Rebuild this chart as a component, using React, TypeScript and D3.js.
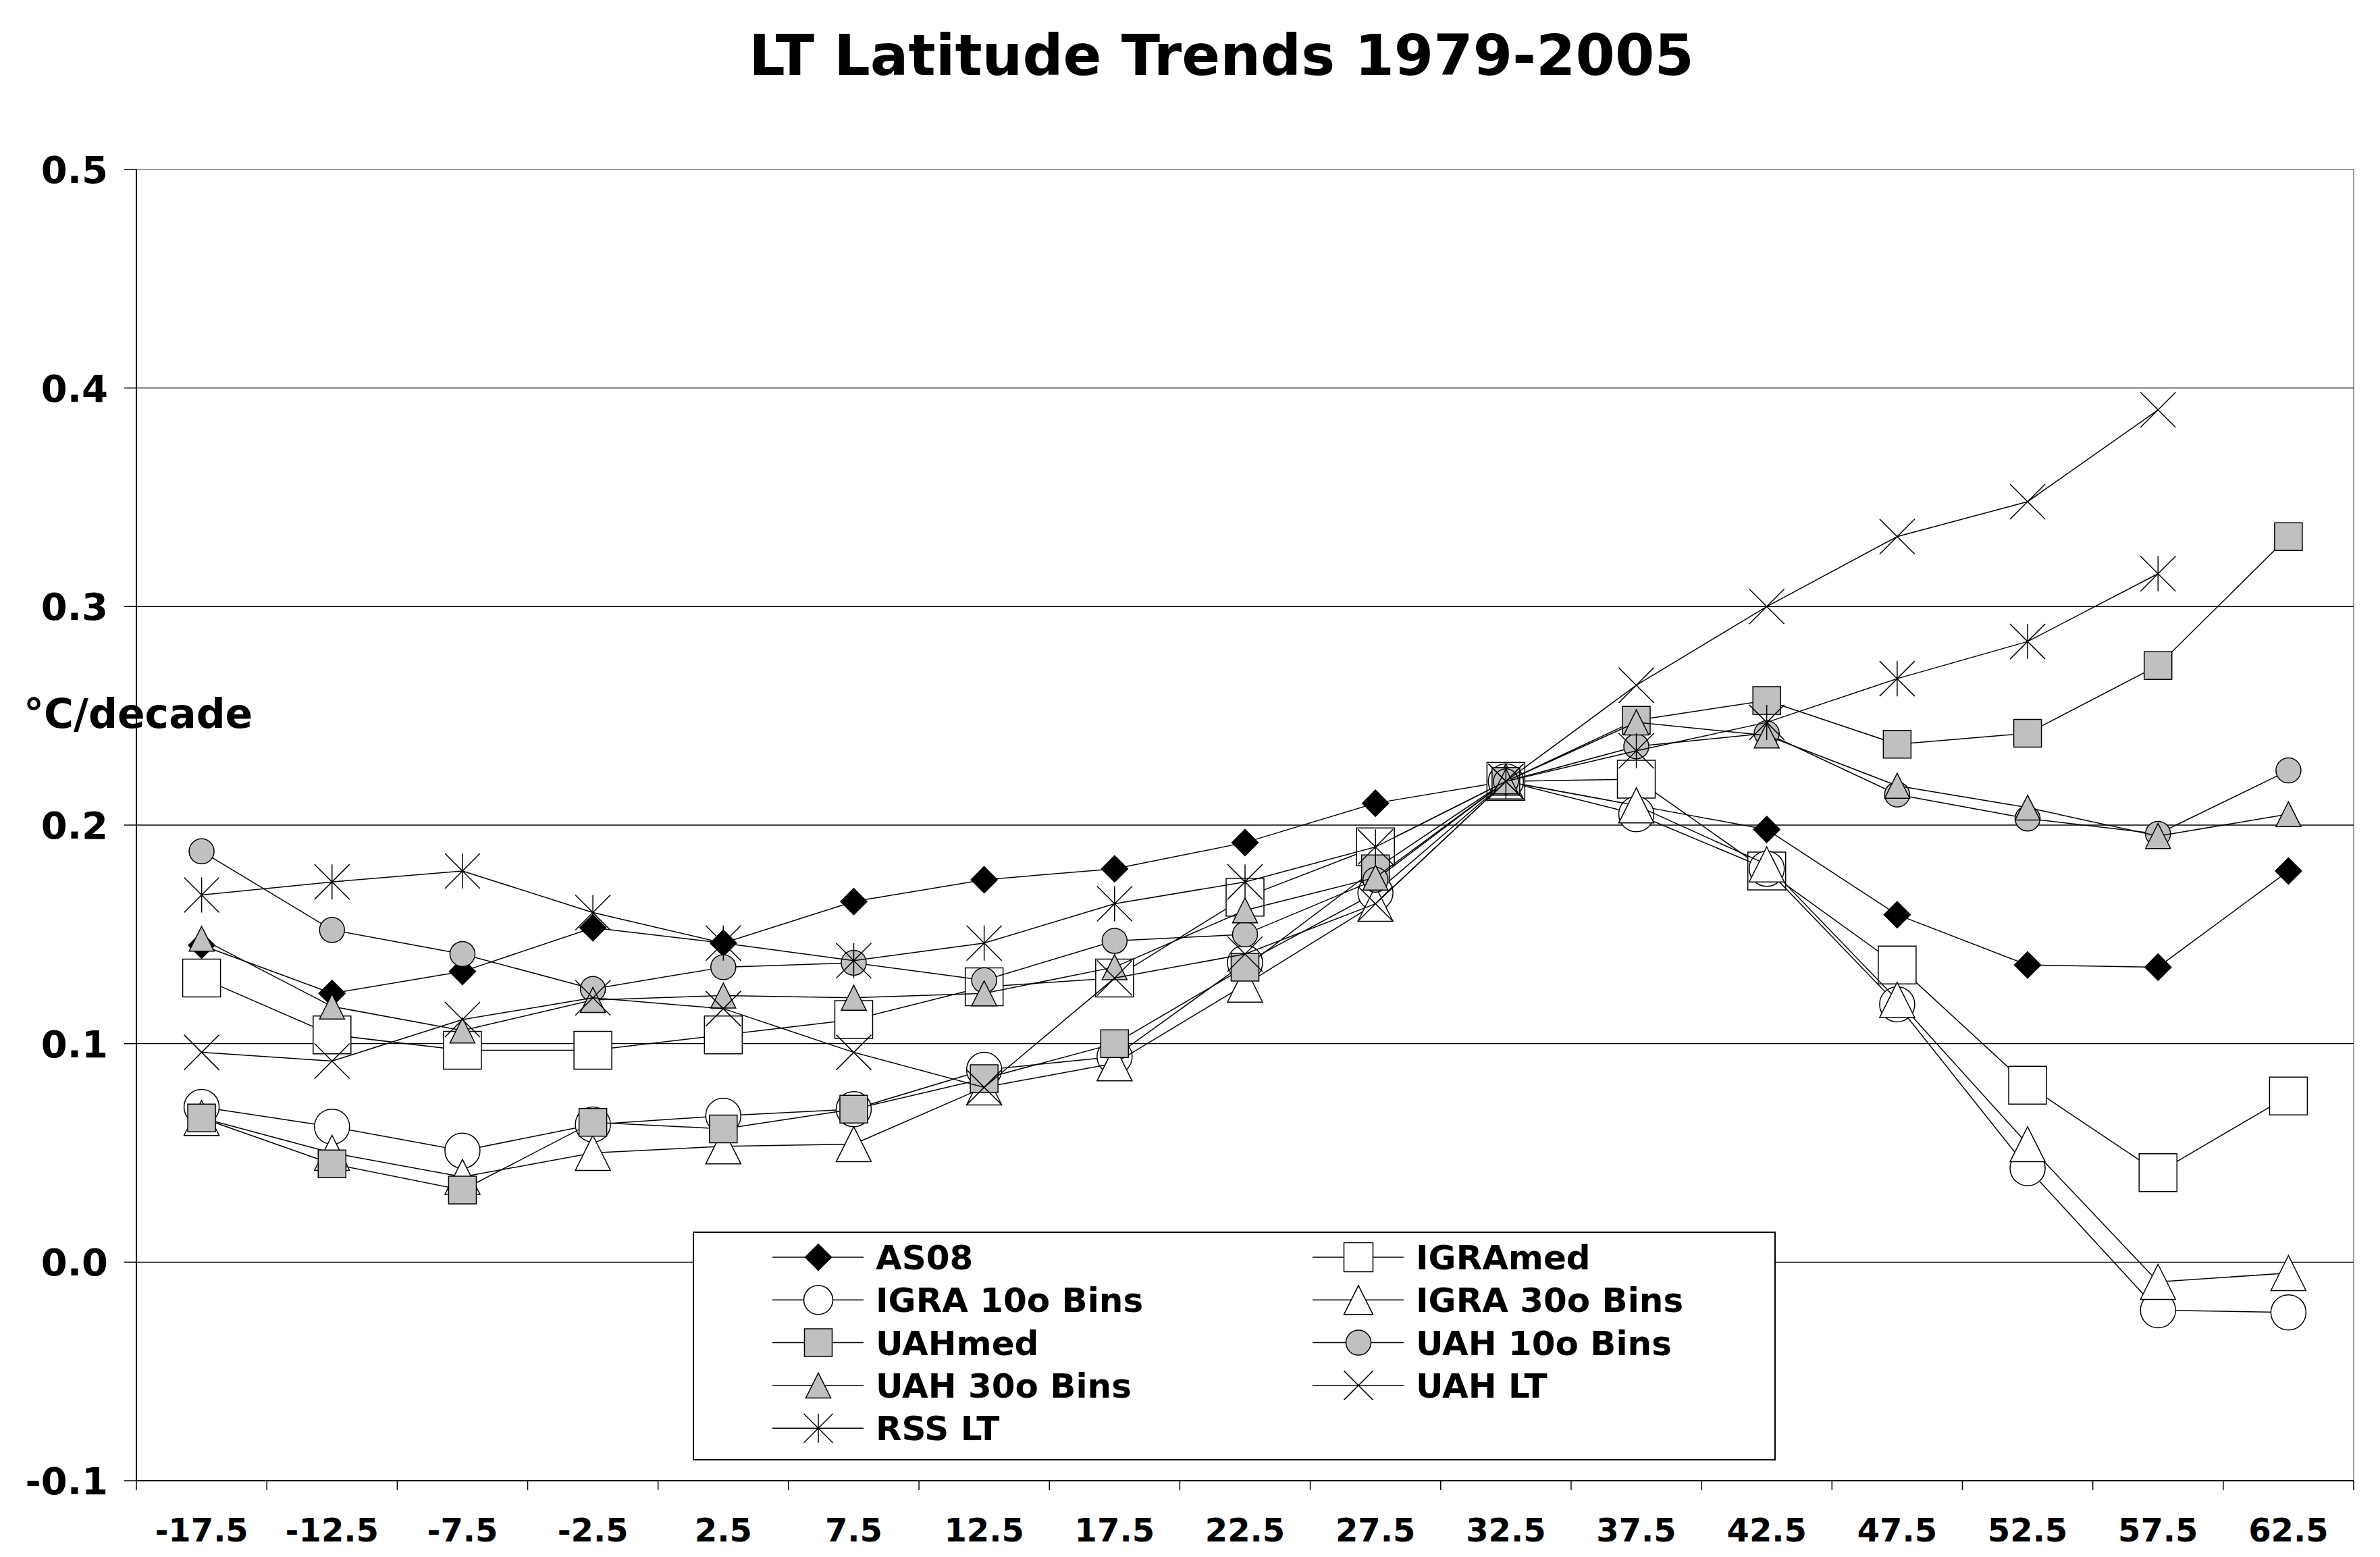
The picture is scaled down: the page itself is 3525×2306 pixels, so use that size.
import * as d3 from "d3";

const CATEGORIES = [
  "-17.5", "-12.5", "-7.5", "-2.5", "2.5", "7.5", "12.5", "17.5", "22.5",
  "27.5", "32.5", "37.5", "42.5", "47.5", "52.5", "57.5", "62.5",
];

const AS08 = [0.145, 0.123, 0.133, 0.153, 0.146, 0.165, 0.175, 0.180, 0.192, 0.210, 0.220, 0.209, 0.198, 0.159, 0.136, 0.135, 0.179];
const IGRA_MED = [0.130, 0.104, 0.097, 0.097, 0.104, 0.111, 0.126, 0.130, 0.167, 0.190, 0.220, 0.221, 0.179, 0.136, 0.081, 0.041, 0.076];
const IGRA_10 = [0.071, 0.062, 0.051, 0.063, 0.067, 0.070, 0.088, 0.094, 0.137, 0.169, 0.220, 0.205, 0.180, 0.118, 0.043, -0.022, -0.023];
const IGRA_30 = [0.066, 0.050, 0.039, 0.050, 0.053, 0.054, 0.080, 0.091, 0.127, 0.164, 0.220, 0.209, 0.182, 0.120, 0.054, -0.009, -0.005];
const UAH_MED = [0.066, 0.045, 0.033, 0.064, 0.061, 0.070, 0.084, 0.100, 0.135, 0.180, 0.220, 0.248, 0.257, 0.237, 0.242, 0.273, 0.332];
const UAH_10 = [0.188, 0.152, 0.141, 0.125, 0.135, 0.137, 0.129, 0.147, 0.150, 0.175, 0.220, 0.236, 0.242, 0.214, 0.203, 0.196, 0.225];
const UAH_30 = [0.148, 0.117, 0.106, 0.120, 0.122, 0.121, 0.123, 0.135, 0.161, 0.176, 0.220, 0.247, 0.241, 0.218, 0.208, 0.195, 0.205];
const UAH_LT = [0.096, 0.092, 0.111, 0.121, 0.116, 0.096, 0.080, 0.130, 0.141, 0.164, 0.220, 0.264, 0.300, 0.332, 0.348, 0.390, null];
const RSS_LT = [0.168, 0.174, 0.179, 0.160, 0.146, 0.138, 0.146, 0.164, 0.174, 0.190, 0.220, 0.234, 0.247, 0.267, 0.284, 0.315, null];

const Y_TICKS = [-0.1, 0.0, 0.1, 0.2, 0.3, 0.4, 0.5];

const TITLE = "LT Latitude Trends 1979-2005";
const Y_LABEL = "°C/decade";

type Shape = "diamond" | "square" | "circle" | "triangle" | "x" | "star";

const SERIES: { name: string; values: (number | null)[]; shape: Shape; fill: string; size: number }[] = [
  { name: "AS08", values: AS08, shape: "diamond", fill: "#000000", size: 39 },
  { name: "IGRAmed", values: IGRA_MED, shape: "square", fill: "#ffffff", size: 56 },
  { name: "IGRA 10o Bins", values: IGRA_10, shape: "circle", fill: "#ffffff", size: 52 },
  { name: "IGRA 30o Bins", values: IGRA_30, shape: "triangle", fill: "#ffffff", size: 52 },
  { name: "UAHmed", values: UAH_MED, shape: "square", fill: "#c0c0c0", size: 41 },
  { name: "UAH 10o Bins", values: UAH_10, shape: "circle", fill: "#c0c0c0", size: 37 },
  { name: "UAH 30o Bins", values: UAH_30, shape: "triangle", fill: "#c0c0c0", size: 37 },
  { name: "UAH LT", values: UAH_LT, shape: "x", fill: "none", size: 52 },
  { name: "RSS LT", values: RSS_LT, shape: "star", fill: "none", size: 52 },
];

const FONT = "'DejaVu Sans', Verdana, sans-serif";

function markerPath(shape: Shape, size: number) {
  const h = size / 2;
  switch (shape) {
    case "diamond":
      return `M0,${-h}L${h},0L0,${h}L${-h},0Z`;
    case "square":
      return `M${-h},${-h}H${h}V${h}H${-h}Z`;
    case "circle":
      return `M${-h},0A${h},${h} 0 1,0 ${h},0A${h},${h} 0 1,0 ${-h},0Z`;
    case "triangle":
      return `M0,${-h}L${h},${h}L${-h},${h}Z`;
    case "x":
      return `M${-h},${-h}L${h},${h}M${h},${-h}L${-h},${h}`;
    case "star":
      return `M${-h},${-h}L${h},${h}M${h},${-h}L${-h},${h}M0,${-h}V${h}`;
  }
}

function Marker({ shape, fill, size, x, y }: { shape: Shape; fill: string; size: number; x: number; y: number }) {
  return (
    <path
      transform={`translate(${x},${y})`}
      d={markerPath(shape, size)}
      fill={fill}
      stroke="#000"
      strokeWidth={1.5}
    />
  );
}

export default function App() {
  const width = 3525;
  const height = 2306;
  const plot = { left: 202, right: 3486, top: 251, bottom: 2193 };

  const x = d3.scaleBand<string>().domain(CATEGORIES).range([plot.left, plot.right]);
  const y = d3.scaleLinear().domain([-0.1, 0.5]).range([plot.bottom, plot.top]);
  const cx = (c: string) => (x(c) ?? 0) + x.bandwidth() / 2;

  const line = d3
    .line<number | null>()
    .defined((d) => d != null)
    .x((_, i) => cx(CATEGORIES[i]))
    .y((d) => y(d as number));

  const legend = { x: 1027, y: 1825, w: 1602, h: 337, rowStart: 1862, rowStep: 63.3, colX: [1144, 1944] };

  return (
    <div style={{ position: "absolute", left: 0, top: 0 }}>
      <svg width={width} height={height} viewBox={`0 0 ${width} ${height}`} style={{ display: "block", background: "#fff" }}>
        <rect x={0} y={0} width={width} height={height} fill="#fff" />

        <text x={1809} y={111} textAnchor="middle" fontFamily={FONT} fontWeight="bold" fontSize={84}>
          {TITLE}
        </text>

        {/* plot area frame */}
        <rect
          x={plot.left}
          y={plot.top}
          width={plot.right - plot.left}
          height={plot.bottom - plot.top}
          fill="none"
          stroke="#808080"
          strokeWidth={1.5}
        />

        {/* gridlines */}
        {Y_TICKS.filter((t) => t > -0.1 && t < 0.5).map((t) => (
          <line key={t} x1={plot.left} x2={plot.right} y1={y(t)} y2={y(t)} stroke="#000" strokeWidth={1.3} />
        ))}

        {/* y axis */}
        <line x1={plot.left} x2={plot.left} y1={plot.top} y2={plot.bottom} stroke="#000" strokeWidth={2} />
        {Y_TICKS.map((t) => (
          <g key={t}>
            <line x1={plot.left - 18} x2={plot.left} y1={y(t)} y2={y(t)} stroke="#000" strokeWidth={1.5} />
            <text
              x={160}
              y={y(t)}
              dy="0.36em"
              textAnchor="end"
              fontFamily={FONT}
              fontWeight="bold"
              fontSize={56}
            >
              {t.toFixed(1)}
            </text>
          </g>
        ))}

        <text x={35} y={1078} fontFamily={FONT} fontWeight="bold" fontSize={60}>
          {Y_LABEL}
        </text>

        {/* x axis */}
        <line x1={plot.left} x2={plot.right} y1={plot.bottom} y2={plot.bottom} stroke="#000" strokeWidth={2} />
        {[...CATEGORIES.map((c) => x(c) ?? 0), plot.right].map((bx, i) => (
          <line key={i} x1={bx} x2={bx} y1={plot.bottom} y2={plot.bottom + 14} stroke="#000" strokeWidth={1.5} />
        ))}
        {CATEGORIES.map((c) => (
          <text key={c} x={cx(c)} y={2283} textAnchor="middle" fontFamily={FONT} fontWeight="bold" fontSize={48}>
            {c}
          </text>
        ))}

        {/* series */}
        {SERIES.map((s) => (
          <g key={s.name}>
            <path d={line(s.values) ?? ""} fill="none" stroke="#000" strokeWidth={1.5} />
            {s.values.map((v, i) =>
              v == null ? null : (
                <Marker key={i} shape={s.shape} fill={s.fill} size={s.size} x={cx(CATEGORIES[i])} y={y(v)} />
              ),
            )}
          </g>
        ))}

        {/* legend */}
        <rect x={legend.x} y={legend.y} width={legend.w} height={legend.h} fill="#fff" stroke="#000" strokeWidth={2} />
        {SERIES.map((s, i) => {
          const col = i % 2;
          const row = Math.floor(i / 2);
          const lx = legend.colX[col];
          const ly = legend.rowStart + row * legend.rowStep;
          return (
            <g key={s.name}>
              <line x1={lx} x2={lx + 135} y1={ly} y2={ly} stroke="#000" strokeWidth={1.5} />
              <Marker shape={s.shape} fill={s.fill} size={Math.min(s.size, 43)} x={lx + 68} y={ly} />
              <text x={lx + 153} y={ly} dy="0.36em" fontFamily={FONT} fontWeight="bold" fontSize={50}>
                {s.name}
              </text>
            </g>
          );
        })}
      </svg>
    </div>
  );
}
